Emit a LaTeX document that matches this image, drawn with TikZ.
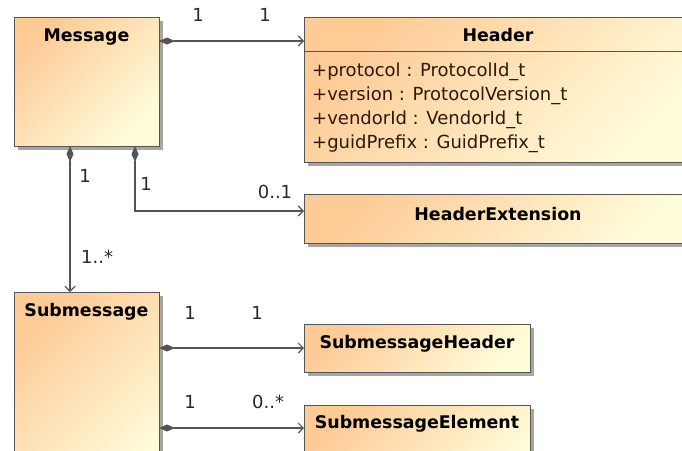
\documentclass[tikz,border=0pt]{standalone}
\usepackage{fontspec}
\setmainfont{DejaVu Sans}
\usetikzlibrary{arrows.meta,shadows,calc}
\definecolor{boxA}{RGB}{254,202,150}
\definecolor{boxB}{RGB}{255,252,218}
\definecolor{edgec}{RGB}{85,85,85}
\definecolor{attrc}{RGB}{45,25,15}
\definecolor{labc}{RGB}{40,40,40}
\tikzset{
  umlbox/.style={draw=edgec, line width=1pt, inner sep=0pt, outer sep=0pt, anchor=north west,
    left color=boxA, right color=boxB, shading angle=45,
    drop shadow={shadow xshift=4pt, shadow yshift=-4pt, fill=black!35, opacity=1}},
  titletext/.style={anchor=base, inner sep=0pt, font=\fontsize{17.4}{20}\selectfont\bfseries, text=black},
  attrtext/.style={anchor=base west, inner sep=0pt, font=\fontsize{18}{22}\selectfont, text=attrc},
  multtext/.style={anchor=base, inner sep=0pt, font=\fontsize{18}{22}\selectfont, text=labc},
  sepline/.style={draw=edgec, line width=1pt},
  comp/.style={draw=edgec, line width=1.1pt,
    {Diamond[length=16pt,width=7pt,fill=edgec,color=edgec]}-{Straight Barb[length=5pt,width=10pt,color=edgec]}}
}
\begin{document}
\begin{tikzpicture}[x=1pt,y=-1pt]
\useasboundingbox (0,0) rectangle (682,450);
\clip (0,0) rectangle (682,450);

% boxes
\node[umlbox, minimum width=145pt, minimum height=129pt] (msg) at (14,17) {};
\node[umlbox, minimum width=388pt, minimum height=145pt] (hdr) at (304,17) {};
\node[umlbox, minimum width=388pt, minimum height=49pt] (hext) at (304,194) {};
\node[umlbox, minimum width=145pt, minimum height=200pt] (sub) at (14,292) {};
\node[umlbox, minimum width=226pt, minimum height=48pt] (smh) at (304,324) {};
\node[umlbox, minimum width=226pt, minimum height=80pt] (sme) at (304,405) {};

% titles
\node[titletext] (msgT) at ($(msg.north)+(0,24)$) {Message};
\node[titletext] (hdrT) at ($(hdr.north)+(0,24)$) {Header};
\node[titletext] (hextT) at ($(hext.north)+(0,26)$) {HeaderExtension};
\node[titletext] (subT) at ($(sub.north)+(0,24)$) {Submessage};
\node[titletext] (smhT) at ($(smh.north)+(0,24)$) {SubmessageHeader};
\node[titletext] (smeT) at ($(sme.north)+(0,23)$) {SubmessageElement};

% header compartment
\draw[sepline] ($(hdr.north west)+(0,34)$) -- ($(hdr.north east)+(0,34)$);
\node[attrtext] (a1) at ($(hdr.north west)+(8,59)$) {+protocol : ProtocolId\_t};
\node[attrtext] (a2) at ($(hdr.north west)+(8,83)$) {+version : ProtocolVersion\_t};
\node[attrtext] (a3) at ($(hdr.north west)+(8,107)$) {+vendorId : VendorId\_t};
\node[attrtext] (a4) at ($(hdr.north west)+(8,131)$) {+guidPrefix : GuidPrefix\_t};

% connectors
\draw[comp] ($(msg.north east)+(0,24)$) -- ($(hdr.north west)+(0,24)$);
\draw[comp] ($(msg.south west)+(56,0)$) -- ($(sub.north west)+(56,0)$);
\draw[comp] ($(msg.south west)+(121,0)$) |- ($(hext.north west)+(0,17)$);
\draw[comp] ($(sub.north east)+(0,56)$) -- ($(smh.north west)+(0,24)$);
\draw[comp] ($(sub.north east)+(0,136)$) -- ($(sme.north west)+(0,23)$);

% multiplicities
\node[multtext] (m1) at (198,21) {1};
\node[multtext] (m2) at (265,21) {1};
\node[multtext] (m3) at (85,182) {1};
\node[multtext] (m4) at (146,190) {1};
\node[multtext] (m5) at (275,198) {0..1};
\node[multtext, anchor=base west] (m6) at (81,263) {1..*};
\node[multtext] (m7) at (190,319) {1};
\node[multtext] (m8) at (257,319) {1};
\node[multtext] (m9) at (190,408) {1};
\node[multtext, anchor=base west] (m10) at (252,408) {0..*};
\end{tikzpicture}
\end{document}
